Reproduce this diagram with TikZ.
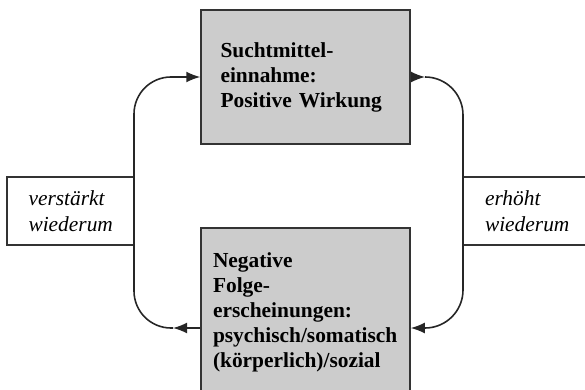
\documentclass[tikz,border=0pt]{standalone}
\usepackage{fontspec}
\setmainfont{Liberation Serif}
\usetikzlibrary{arrows.meta}

\tikzset{
	grau/.style={rectangle, draw=black!80, line width=1.5pt, fill=black!20, inner sep=0pt, align=left, font=\bfseries\fontsize{21.4}{25}\selectfont},
	hinweis/.style={rectangle, draw=black!80, line width=1.3pt, fill=white, inner sep=0pt, align=left, font=\itshape\fontsize{21.4}{26}\selectfont},
	pfeil/.style={draw=black!85, line width=1.6pt, -{Latex[length=14pt,width=11pt]}}
}

\begin{document}
\begin{tikzpicture}[x=1pt,y=-1pt]
	\def\lx{134}
	\def\rx{463}
	\def\yo{77}
	\def\yu{328}
	\clip (0,0) rectangle (585,390);
	\node[grau, minimum width=209pt, minimum height=134pt, text width=170pt] (sucht) at (305.5,77) {Suchtmittel-\\einnahme:\\Positive Wirkung};
	\node[grau, minimum width=209pt, minimum height=169pt, text width=185pt] (neg) at (305.5,312.5) {Negative\\Folge-\\erscheinungen:\\psychisch/somatisch\\(k\"orperlich)/sozial};
	\node[hinweis, minimum width=127pt, minimum height=68pt, text width=84pt] (verst) at (70.5,211) {verst\"arkt\\wiederum};
	\node[hinweis, minimum width=128pt, minimum height=68pt, text width=84pt] (erh) at (527,211) {erh\"oht\\wiederum};
%%%%
	\coordinate (lu) at (173,\yu);
	\coordinate (lo) at (\lx,\yo);
	\coordinate (ro) at (425,\yo);
	\coordinate (ru) at (\rx,\yu);
	\draw[pfeil] (neg.west |- lu) -- (lu);
	\draw[pfeil, rounded corners=37pt] (lu) -| (lo) -- (sucht.west |- lo);
	\draw[pfeil] (sucht.east |- ro) -- (ro);
	\draw[pfeil, rounded corners=38pt] (ro) -| (ru) -- (neg.east |- ru);
\end{tikzpicture}
\end{document}
